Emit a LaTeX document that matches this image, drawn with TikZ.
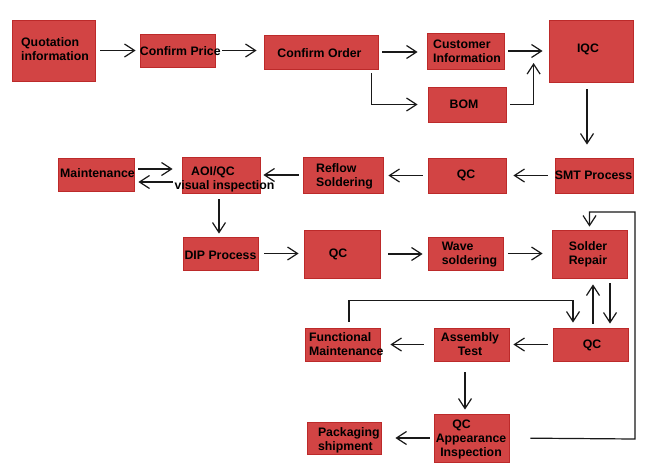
\documentclass[tikz,border=0pt]{standalone}
\usepackage{fontspec}
\setmainfont{Liberation Sans}
\usetikzlibrary{arrows.meta}
\definecolor{boxfill}{RGB}{210,68,68}
\definecolor{boxline}{RGB}{188,42,42}
\definecolor{ink}{RGB}{25,25,25}
\newcommand\tb[2]{\begin{tabular}{@{}#1@{}}#2\end{tabular}}
\tikzset{
  box/.style={draw=boxline, fill=boxfill, line width=0.8pt, inner sep=0pt},
  txt/.style={inner sep=0pt, font=\fontsize{12.3}{13.8}\selectfont\bfseries, text=black},
  arr/.style={draw=ink, line width=1.2pt, -{Straight Barb[length=10pt,width=13pt]}}
}
\begin{document}
\begin{tikzpicture}[x=1pt,y=-1pt]
\useasboundingbox (0,0) rectangle (650,474);
\fill[white] (0,0) rectangle (650,474);

% boxes
\node[box, minimum width=83pt, minimum height=61pt] (quot) at (53.5,50.5) {};
\node[box, minimum width=75pt, minimum height=33pt] (price) at (177.5,50.5) {};
\node[box, minimum width=114pt, minimum height=34pt] (order) at (321,52) {};
\node[box, minimum width=77pt, minimum height=36pt] (cust) at (465.5,51) {};
\node[box, minimum width=78pt, minimum height=35pt] (bom) at (467,104.5) {};
\node[box, minimum width=84pt, minimum height=62pt] (iqc) at (591,51) {};
\node[box, minimum width=78pt, minimum height=35pt] (smt) at (594,175.5) {};
\node[box, minimum width=78pt, minimum height=35pt] (qc2) at (467,175.5) {};
\node[box, minimum width=80pt, minimum height=36pt] (reflow) at (343,175) {};
\node[box, minimum width=78pt, minimum height=36pt] (aoi) at (221,175) {};
\node[box, minimum width=76pt, minimum height=33pt] (maint) at (96,174.5) {};
\node[box, minimum width=75pt, minimum height=33pt] (dip) at (220.5,253.5) {};
\node[box, minimum width=76pt, minimum height=48pt] (qc3) at (342,254) {};
\node[box, minimum width=75pt, minimum height=33pt] (wave) at (465.5,253.5) {};
\node[box, minimum width=75pt, minimum height=48pt] (repair) at (589.5,254) {};
\node[box, minimum width=75pt, minimum height=33pt] (qc4) at (590.5,344.5) {};
\node[box, minimum width=75pt, minimum height=33pt] (asm) at (471.5,344.5) {};
\node[box, minimum width=75pt, minimum height=33pt] (func) at (342.5,344.5) {};
\node[box, minimum width=75pt, minimum height=48pt] (qca) at (471.5,438) {};
\node[box, minimum width=74pt, minimum height=32pt] (pack) at (344,438) {};

% texts
\node[txt] (quot-t) at ([xshift=1.5pt,yshift=-0.2pt]quot.center) {\tb{l}{Quotation\\information}};
\node[txt] (price-t) at ([xshift=2.8pt,yshift=-2.4pt]price.center) {\tb{c}{Confirm Price}};
\node[txt] (order-t) at ([xshift=-1.5pt,yshift=-3pt]order.center) {\tb{c}{Confirm Order}};
\node[txt] (cust-t) at ([xshift=1.5pt,yshift=-1.6pt]cust.center) {\tb{l}{Customer\\Information}};
\node[txt] (bom-t) at ([xshift=-3pt,yshift=-1.6pt]bom.center) {\tb{c}{BOM}};
\node[txt] (iqc-t) at ([xshift=-3pt,yshift=0.9pt]iqc.center) {\tb{c}{IQC}};
\node[txt] (smt-t) at ([xshift=-0.5pt,yshift=-1.6pt]smt.center) {\tb{c}{SMT Process}};
\node[txt] (qc2-t) at ([xshift=-1pt,yshift=-0.6pt]qc2.center) {\tb{c}{QC}};
\node[txt] (reflow-t) at ([xshift=1.5pt,yshift=-2.1pt]reflow.center) {\tb{l}{Reflow\\Soldering}};
\node[txt] (aoi-t) at ([xshift=3.5pt,yshift=-4.5pt]aoi.center) {\tb{c}{AOI/QC\hspace*{23pt}\\visual inspection}};
\node[txt] (maint-t) at ([xshift=1.5pt,yshift=-0.6pt]maint.center) {\tb{c}{Maintenance}};
\node[txt] (dip-t) at ([xshift=0pt,yshift=-3.5pt]dip.center) {\tb{c}{DIP Process}};
\node[txt] (qc3-t) at ([xshift=-4pt,yshift=-1.1pt]qc3.center) {\tb{c}{QC}};
\node[txt] (wave-t) at ([xshift=4pt,yshift=-1.6pt]wave.center) {\tb{l}{Wave\\soldering}};
\node[txt] (repair-t) at ([xshift=-1.5pt,yshift=-1.1pt]repair.center) {\tb{c}{Solder\\Repair}};
\node[txt] (qc4-t) at ([xshift=1.5pt,yshift=-1.6pt]qc4.center) {\tb{c}{QC}};
\node[txt] (asm-t) at ([xshift=-1.5pt,yshift=-1.6pt]asm.center) {\tb{c}{Assembly\\Test}};
\node[txt] (func-t) at ([xshift=3.8pt,yshift=-1.6pt]func.center) {\tb{l}{Functional\\Maintenance}};
\node[txt] (qca-t) at ([xshift=-0.5pt,yshift=-1.6pt]qca.center) {\tb{c}{QC\hspace*{19pt}\\Appearance\\Inspection}};
\node[txt] (pack-t) at ([xshift=4.8pt,yshift=-3pt]pack.center) {\tb{l}{Packaging\\shipment}};

% connectors
\draw[arr, shorten <=5pt, shorten >=4pt] (quot.east) -- (quot.east -| price.west);
\draw[arr, shorten <=7pt, shorten >=7pt] (price.east) -- (price.east -| order.west);
\draw[arr, shorten <=4pt, shorten >=9pt] (order.east) -- (order.east -| cust.west);
\draw[arr, shorten <=4pt, shorten >=10pt] ([xshift=-7pt]order.south east) |- (bom.west);
\draw[arr, shorten <=4pt, shorten >=6pt] (cust.east) -- (cust.east -| iqc.west);
\draw[arr, shorten <=4pt, shorten >=12pt] (bom.east) -| ([xshift=-15pt]iqc.west);
\draw[arr, shorten <=7pt, shorten >=13pt] ([xshift=-4pt]iqc.south) -- ([xshift=-4pt]iqc.south |- smt.north);
\draw[arr, shorten <=7pt, shorten >=7pt] (smt.west) -- (smt.west -| qc2.east);
\draw[arr, shorten <=5pt, shorten >=5pt] (qc2.west) -- (qc2.west -| reflow.east);
\draw[arr, shorten <=4pt, shorten >=3pt] (reflow.west) -- (reflow.west -| aoi.east);
\draw[arr, shorten <=4pt, shorten >=9pt] ([yshift=5.5pt]maint.east) -- ([yshift=5.5pt]maint.east -| aoi.west);
\draw[arr, shorten <=9pt, shorten >=4pt] ([yshift=-7.5pt]maint.east -| aoi.west) -- ([yshift=-7.5pt]maint.east);
\draw[arr, shorten <=6pt, shorten >=3pt] ([xshift=-2pt]aoi.south) -- ([xshift=-2pt]aoi.south |- dip.north);
\draw[arr, shorten <=6pt, shorten >=5pt] (dip.east) -- (dip.east -| qc3.west);
\draw[arr, shorten <=8pt, shorten >=5pt] (qc3.east) -- (qc3.east -| wave.west);
\draw[arr, shorten <=5pt, shorten >=9pt] (wave.east) -- (wave.east -| repair.west);
\draw[arr, shorten <=4pt, shorten >=6pt] ([xshift=2.5pt]qc4.north) -- ([xshift=2.5pt]qc4.north |- repair.south);
\draw[arr, shorten <=5pt, shorten >=4pt] ([xshift=19.5pt]qc4.north |- repair.south) -- ([xshift=19.5pt]qc4.north);
\draw[arr, shorten <=6pt, shorten >=5pt] ([xshift=6.5pt]func.north) -- ++(0,-27) -| ([xshift=-17.5pt]qc4.north);
\draw[arr, shorten <=5pt, shorten >=4pt] (qc4.west) -- (qc4.west -| asm.east);
\draw[arr, shorten <=10pt, shorten >=10pt] (asm.west) -- (asm.west -| func.east);
\draw[arr, shorten <=11pt, shorten >=4pt] ([xshift=-6.5pt]asm.south) -- ([xshift=-6.5pt]asm.south |- qca.north);
\draw[arr, shorten <=4pt, shorten >=14pt] (qca.west) -- (qca.west -| pack.east);
\coordinate (fbA) at (635,439);
\coordinate (fbB) at (635,212);
\draw[arr, shorten <=21pt, shorten >=3pt] (qca.east) -- (fbA) -- (fbB) -| (repair.north);
\end{tikzpicture}
\end{document}
